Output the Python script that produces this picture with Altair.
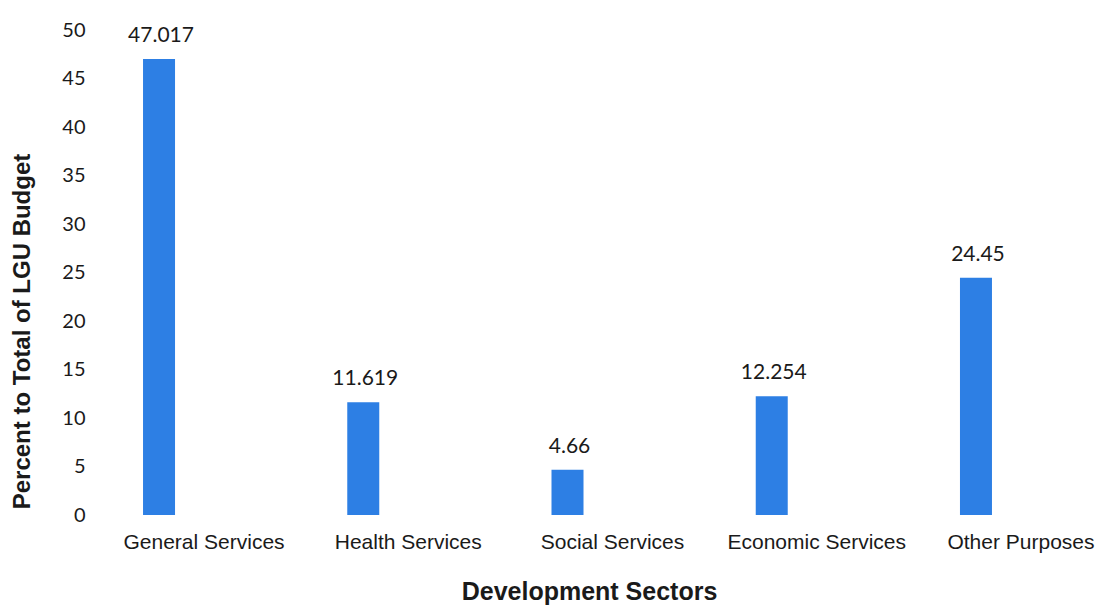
import altair as alt
import pandas as pd

sectors = ["General Services", "Health Services", "Social Services", "Economic Services", "Other Purposes"]
values = [47.017, 11.619, 4.66, 12.254, 24.45]
labels = ["47.017", "11.619", "4.66", "12.254", "24.45"]

df = pd.DataFrame({"sector": sectors, "value": values, "label": labels})

x_enc = alt.X(
    "sector:N",
    sort=sectors,
    scale=alt.Scale(paddingInner=0.843, paddingOuter=0.235),
    axis=alt.Axis(
        title="Development Sectors",
        titleFont="Liberation Sans",
        titleFontSize=25,
        titleFontWeight="bold",
        titleColor="#1a1a1a",
        titleX=494,
        titleY=76,
        titleBaseline="middle",
        titleAlign="center",
        labelFont="Liberation Sans",
        labelFontSize=21,
        labelColor="#1a1a1a",
        labelAngle=0,
        labelPadding=16,
        labelOffset=45,
        ticks=False,
        domain=False,
    ),
)

y_enc = alt.Y(
    "value:Q",
    scale=alt.Scale(domain=[0, 50], nice=False),
    axis=alt.Axis(
        title="Percent to Total of LGU Budget",
        titleFont="Liberation Sans",
        titleFontSize=24,
        titleFontWeight="bold",
        titleColor="#1a1a1a",
        titleX=-73,
        titleY=301,
        titleAngle=-90,
        titleAlign="center",
        titleBaseline="middle",
        values=list(range(0, 51, 5)),
        labelFont="Lato",
        labelFontSize=20,
        labelColor="#1a1a1a",
        labelPadding=10,
        ticks=False,
        domain=False,
        grid=False,
    ),
)

bars = alt.Chart(df).mark_bar(color="#2d7fe4", size=32).encode(x=x_enc, y=y_enc)

text = alt.Chart(df).mark_text(
    font="Lato", fontSize=21, color="#1a1a1a", dy=-23, dx=2, baseline="middle"
).encode(x=alt.X("sector:N", sort=sectors), y="value:Q", text="label:N")

chart = (
    alt.layer(bars, text)
    .properties(
        width=945,
        height=485,
        autosize=alt.AutoSizeParams(type="none"),
        padding={"left": 95, "top": 30, "right": 58, "bottom": 92},
        background="white",
    )
    .configure_view(stroke=None)
)

chart.save("out.html", embed_options={"renderer": "svg", "actions": False})
